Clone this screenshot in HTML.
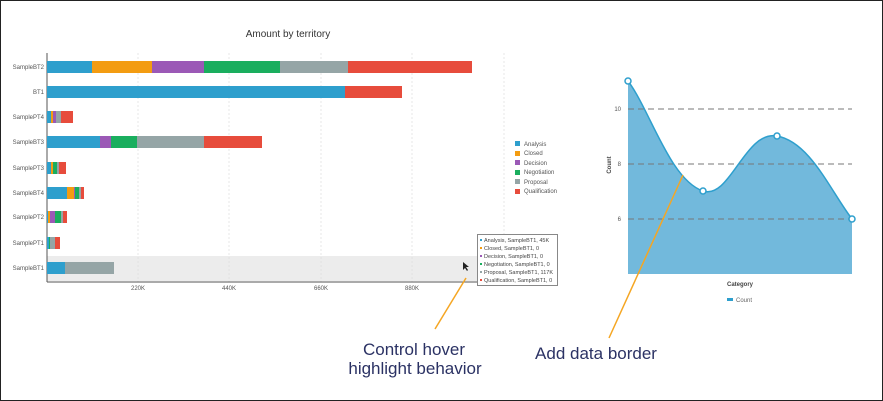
<!DOCTYPE html>
<html><head><meta charset="utf-8"><style>
html,body{margin:0;padding:0;background:#fff;}
svg{display:block;font-family:"Liberation Sans",sans-serif;}
</style></head><body>
<svg width="883" height="401" viewBox="0 0 883 401" xmlns="http://www.w3.org/2000/svg">
<rect x="0.5" y="0.5" width="882" height="400" fill="#fff" stroke="#222" stroke-width="1"/>
<text x="288" y="37" font-size="10" fill="#333" text-anchor="middle">Amount by territory</text>
<!-- highlight band -->
<rect x="47" y="256" width="431" height="25" fill="#ececec"/>
<!-- grid -->
<g stroke="#ddd" stroke-dasharray="2,2" stroke-width="0.7">
<line x1="138" y1="53" x2="138" y2="282"/><line x1="229" y1="53" x2="229" y2="282"/>
<line x1="321" y1="53" x2="321" y2="282"/><line x1="412" y1="53" x2="412" y2="282"/>
<line x1="504" y1="53" x2="504" y2="282"/>
</g>
<line x1="47" y1="53" x2="47" y2="282" stroke="#555"/>
<line x1="47" y1="282" x2="478" y2="282" stroke="#555"/>
<g font-size="6" fill="#555" text-anchor="middle">
<text x="138" y="290">220K</text><text x="229" y="290">440K</text><text x="321" y="290">660K</text><text x="412" y="290">880K</text>
</g>
<g font-size="6" fill="#555" text-anchor="end">
<text x="44" y="69">SampleBT2</text><text x="44" y="94">BT1</text><text x="44" y="119">SamplePT4</text>
<text x="44" y="144">SampleBT3</text><text x="44" y="170">SamplePT3</text><text x="44" y="195">SampleBT4</text>
<text x="44" y="219">SamplePT2</text><text x="44" y="245">SamplePT1</text><text x="44" y="270">SampleBT1</text>
</g>
<g>
<!-- BT2 y=61 -->
<rect x="47" y="61" width="45" height="12" fill="#2e9fcd"/><rect x="92" y="61" width="60" height="12" fill="#f39c12"/>
<rect x="152" y="61" width="52" height="12" fill="#9b59b6"/><rect x="204" y="61" width="76" height="12" fill="#1aae5e"/>
<rect x="280" y="61" width="68" height="12" fill="#95a5a6"/><rect x="348" y="61" width="124" height="12" fill="#e74c3c"/>
<!-- BT1 -->
<rect x="47" y="86" width="298" height="12" fill="#2e9fcd"/><rect x="345" y="86" width="57" height="12" fill="#e74c3c"/>
<!-- PT4 -->
<rect x="47" y="111" width="4" height="12" fill="#2e9fcd"/><rect x="51" y="111" width="2" height="12" fill="#f39c12"/>
<rect x="53" y="111" width="3" height="12" fill="#9b59b6"/><rect x="56" y="111" width="5" height="12" fill="#95a5a6"/>
<rect x="61" y="111" width="12" height="12" fill="#e74c3c"/>
<!-- BT3 -->
<rect x="47" y="136" width="53" height="12" fill="#2e9fcd"/><rect x="100" y="136" width="11" height="12" fill="#9b59b6"/>
<rect x="111" y="136" width="26" height="12" fill="#1aae5e"/><rect x="137" y="136" width="67" height="12" fill="#95a5a6"/>
<rect x="204" y="136" width="58" height="12" fill="#e74c3c"/>
<!-- PT3 -->
<rect x="47" y="162" width="4" height="12" fill="#2e9fcd"/><rect x="51" y="162" width="2" height="12" fill="#f39c12"/>
<rect x="53" y="162" width="4" height="12" fill="#1aae5e"/><rect x="57" y="162" width="2" height="12" fill="#95a5a6"/>
<rect x="59" y="162" width="7" height="12" fill="#e74c3c"/>
<!-- BT4 -->
<rect x="47" y="187" width="20" height="12" fill="#2e9fcd"/><rect x="67" y="187" width="7" height="12" fill="#f39c12"/>
<rect x="74" y="187" width="1" height="12" fill="#9b59b6"/><rect x="75" y="187" width="4" height="12" fill="#1aae5e"/>
<rect x="79" y="187" width="2" height="12" fill="#95a5a6"/><rect x="81" y="187" width="3" height="12" fill="#e74c3c"/>
<!-- PT2 -->
<rect x="47" y="211" width="1" height="12" fill="#2e9fcd"/><rect x="48" y="211" width="2" height="12" fill="#f39c12"/>
<rect x="50" y="211" width="5" height="12" fill="#9b59b6"/><rect x="55" y="211" width="6" height="12" fill="#1aae5e"/>
<rect x="61" y="211" width="2" height="12" fill="#95a5a6"/><rect x="63" y="211" width="4" height="12" fill="#e74c3c"/>
<!-- PT1 -->
<rect x="47" y="237" width="2" height="12" fill="#2e9fcd"/><rect x="49" y="237" width="1" height="12" fill="#1aae5e"/>
<rect x="50" y="237" width="5" height="12" fill="#95a5a6"/><rect x="55" y="237" width="5" height="12" fill="#e74c3c"/>
<!-- BT1s -->
<rect x="47" y="262" width="18" height="12" fill="#2e9fcd"/><rect x="65" y="262" width="49" height="12" fill="#95a5a6"/>
</g>
<!-- legend -->
<g font-size="6" fill="#555">
<rect x="515" y="141" width="5" height="5" fill="#2e9fcd"/><text x="524" y="146">Analysis</text>
<rect x="515" y="151" width="5" height="5" fill="#f39c12"/><text x="524" y="155">Closed</text>
<rect x="515" y="160" width="5" height="5" fill="#9b59b6"/><text x="524" y="165">Decision</text>
<rect x="515" y="170" width="5" height="5" fill="#1aae5e"/><text x="524" y="174">Negotiation</text>
<rect x="515" y="179" width="5" height="5" fill="#95a5a6"/><text x="524" y="184">Proposal</text>
<rect x="515" y="189" width="5" height="5" fill="#e74c3c"/><text x="524" y="193">Qualification</text>
</g>
<!-- tooltip -->
<rect x="477.5" y="234.5" width="80" height="51" fill="#fff" stroke="#888"/>
<g font-size="5.5" fill="#444">
<rect x="480" y="239" width="2" height="2" fill="#2e9fcd"/><text x="484" y="242">Analysis, SampleBT1, 45K</text>
<rect x="480" y="247" width="2" height="2" fill="#f39c12"/><text x="484" y="250">Closed, SampleBT1, 0</text>
<rect x="480" y="255" width="2" height="2" fill="#9b59b6"/><text x="484" y="258">Decision, SampleBT1, 0</text>
<rect x="480" y="263" width="2" height="2" fill="#1aae5e"/><text x="484" y="266">Negotiation, SampleBT1, 0</text>
<rect x="480" y="271" width="2" height="2" fill="#95a5a6"/><text x="484" y="274">Proposal, SampleBT1, 117K</text>
<rect x="480" y="279" width="2" height="2" fill="#e74c3c"/><text x="484" y="282">Qualification, SampleBT1, 0</text>
</g>
<path d="M463 262 l0 8 l2 -2 l2 3 l1 -1 l-2 -3 l3 0 z" fill="#222"/>
<!-- area chart -->
<path d="M628 81 C650 110,670 180,703 191 C730 200,745 130,777 136 C810 142,830 190,852 219 L852 274 L628 274 Z" fill="#72b9dc"/>
<g stroke="#777" stroke-dasharray="6,4" stroke-width="1">
<line x1="628" y1="109" x2="852" y2="109"/><line x1="628" y1="164" x2="852" y2="164"/><line x1="628" y1="219" x2="852" y2="219"/>
</g>
<path d="M628 81 C650 110,670 180,703 191 C730 200,745 130,777 136 C810 142,830 190,852 219" fill="none" stroke="#2e9fcd" stroke-width="1.5"/>
<g fill="#fff" stroke="#2e9fcd" stroke-width="1.5">
<circle cx="628" cy="81" r="3"/><circle cx="703" cy="191" r="3"/><circle cx="777" cy="136" r="3"/><circle cx="852" cy="219" r="3"/>
</g>
<g font-size="6" fill="#555" text-anchor="end">
<text x="621" y="111">10</text><text x="621" y="166">8</text><text x="621" y="221">6</text>
</g>
<text x="611" y="165" font-size="6" font-weight="bold" fill="#444" text-anchor="middle" transform="rotate(-90 611 165)">Count</text>
<text x="740" y="286" font-size="6" font-weight="bold" fill="#444" text-anchor="middle">Category</text>
<rect x="727" y="298" width="6" height="3" fill="#2e9fcd"/>
<text x="736" y="302" font-size="6" fill="#666">Count</text>
<!-- annotations -->
<g stroke="#f5a623" stroke-width="1.5">
<line x1="466" y1="278" x2="435" y2="329"/><line x1="683" y1="175" x2="609" y2="338"/>
</g>
<g font-size="17" fill="#2b3264" text-anchor="middle">
<text x="414" y="355">Control hover</text>
<text x="415" y="374">highlight behavior</text>
<text x="596" y="359">Add data border</text>
</g>
</svg>
</body></html>
